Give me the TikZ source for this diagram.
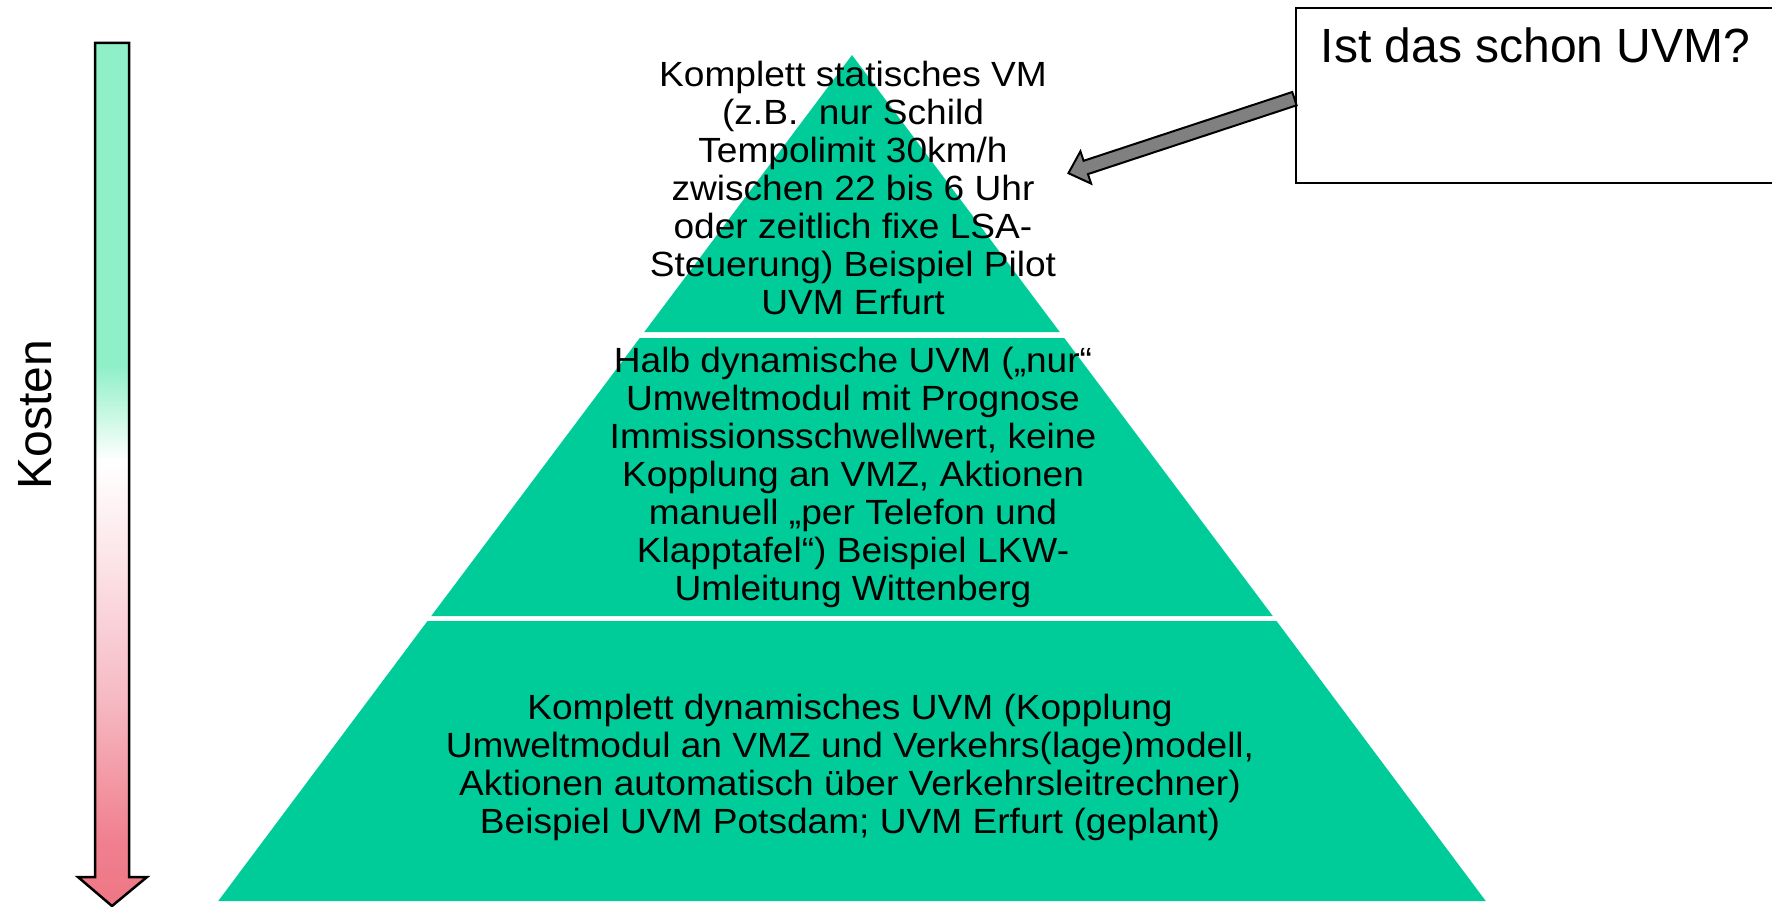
\documentclass[tikz,border=0pt]{standalone}
\usepackage{fontspec}
\setmainfont{Liberation Sans}
\newfontfamily\pyrfont{Liberation Sans}[FakeStretch=1.06]
\usetikzlibrary{shapes.arrows,calc}
\definecolor{pyrgreen}{RGB}{0,204,153}
\definecolor{kmint}{RGB}{143,240,199}
\definecolor{kpinkl}{RGB}{252,228,232}
\definecolor{kpinkm}{RGB}{246,185,194}
\definecolor{kpink}{RGB}{240,128,142}
\definecolor{kpinkd}{RGB}{238,118,132}
\definecolor{arrgray}{RGB}{128,128,128}
\pgfdeclareverticalshading{kostshade}{100bp}{color(0bp)=(kpinkd); color(25bp)=(kpinkd); color(28.8bp)=(kpink); color(36.9bp)=(kpinkm); color(45bp)=(kpinkl); color(50.8bp)=(white); color(56.3bp)=(kmint); color(75bp)=(kmint); color(100bp)=(kmint)}
\begin{document}
\begin{tikzpicture}[x=1pt,y=-1pt,
  layer/.style={fill=pyrgreen, draw=none},
  pyrtext/.style={align=center, inner sep=0pt, font=\pyrfont\fontsize{35}{38}\selectfont},
  bigtext/.style={inner sep=0pt, font=\fontsize{48}{52}\selectfont}]
\clip (0,0) rectangle (1772,907);
% pyramid layers
\fill[layer] (852,55) -- (1059.75,332) -- (644.25,332) -- cycle;
\fill[layer] (639.75,338) -- (1064.25,338) -- (1272.75,616) -- (431.25,616) -- cycle;
\fill[layer] (427.5,621) -- (1276.5,621) -- (1485.75,901) -- (218.25,901) -- cycle;
% texts
\node[pyrtext] (top) at (853,188) {Komplett statisches VM\\(z.B.\ \ nur Schild\\Tempolimit 30km/h\\zwischen 22 bis 6 Uhr\\oder zeitlich fixe LSA-\\Steuerung) Beispiel Pilot\\UVM Erfurt};
\node[pyrtext] (mid) at (853,477) {Halb dynamische UVM („nur“\\Umweltmodul mit Prognose\\Immissionsschwellwert, keine\\Kopplung an VMZ, Aktionen\\manuell „per Telefon und\\Klapptafel“) Beispiel LKW-\\Umleitung Wittenberg};
\node[pyrtext] (bot) at (850,767) {Komplett dynamisches UVM (Kopplung\\Umweltmodul an VMZ und Verkehrs(lage)modell,\\Aktionen automatisch über Verkehrsleitrechner)\\Beispiel UVM Potsdam; UVM Erfurt (geplant)};
% cost arrow
\shadedraw[shading=kostshade, line width=2.5pt, line join=miter] (95,43) -- (129,43) -- (129,877) -- (147,877) -- (112,906) -- (78,877) -- (95,877) -- cycle;
\node[bigtext, rotate=90] (kosten) at (35,414.5) {Kosten};
% callout
\node[draw, fill=white, line width=2pt, anchor=north west, minimum width=600pt, minimum height=175pt, inner sep=0pt] (callout) at (1295,7) {};
\node[bigtext, anchor=base west] (ctext) at (1320.5,63) {Ist das schon UVM?};
\coordinate (cstart) at ($(callout.west)+(3,2)$);
\coordinate (target) at (1072,172);
\path let \p1=($(target)-(cstart)$), \n1={atan2(\y1,\x1)}, \n2={veclen(\x1,\y1)} in
  node[single arrow, draw, fill=arrgray, line width=2pt, minimum height=\n2, inner xsep=0pt, inner ysep=6pt, single arrow head extend=10pt, single arrow tip angle=86, single arrow head indent=0pt, rotate=\n1, anchor=center] (callarrow) at ($(cstart)!0.5!(target)$) {};
\end{tikzpicture}
\end{document}
